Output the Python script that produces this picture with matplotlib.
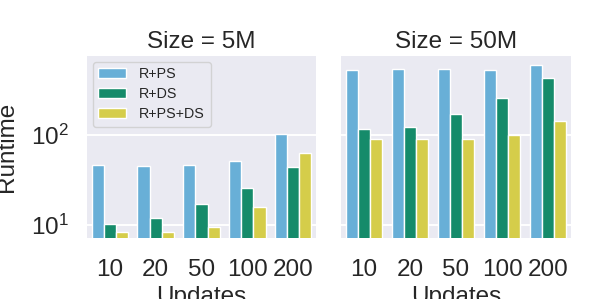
import colorsys
import numpy as np
import matplotlib
matplotlib.use("Agg")
import matplotlib.pyplot as plt
import matplotlib.colors as mcolors

# дані
updates = ["10", "20", "50", "100", "200"]
methods = ["R+PS", "R+DS", "R+PS+DS"]
sizes = ["5M", "50M"]

rt_5m_ps = [47, 45.5, 47, 52, 103]
rt_5m_ds = [10.3, 11.9, 17.1, 25.8, 44.5]
rt_5m_psds = [8.4, 8.4, 9.5, 16.0, 63.5]

rt_50m_ps = [523, 537, 541, 528, 594]
rt_50m_ds = [117, 124, 172, 255, 433]
rt_50m_psds = [90, 89, 90, 99, 144]

base_colors = ["#56b4e9", "#029e73", "#ece133"]


def desaturate(c, prop=0.75):
    r, g, b = mcolors.to_rgb(c)
    h, l, s = colorsys.rgb_to_hls(r, g, b)
    return colorsys.hls_to_rgb(h, l, s * prop)


colors = [desaturate(c) for c in base_colors]

plt.rcParams["font.family"] = ["Liberation Sans", "DejaVu Sans"]
plt.rcParams["mathtext.fontset"] = "custom"
plt.rcParams["mathtext.rm"] = "Liberation Sans"
plt.rcParams["mathtext.it"] = "Liberation Sans:italic"
plt.rcParams["mathtext.default"] = "regular"
plt.rcParams["text.color"] = "#262626"
plt.rcParams["axes.labelcolor"] = "#262626"
plt.rcParams["xtick.color"] = "#262626"
plt.rcParams["ytick.color"] = "#262626"

fs = 17.5

fig = plt.figure(figsize=(5.98, 2.99), dpi=100)
ax1 = fig.add_axes([87 / 598, 61 / 299, 229 / 598, 182 / 299])
ax2 = fig.add_axes([341 / 598, 61 / 299, 230 / 598, 182 / 299], sharey=ax1)

data = [
    [rt_5m_ps, rt_5m_ds, rt_5m_psds],
    [rt_50m_ps, rt_50m_ds, rt_50m_psds],
]

x = np.arange(len(updates))
w = 0.8 / len(methods)

for ax, size, series in zip([ax1, ax2], sizes, data):
    ax.set_facecolor("#EAEAF2")
    for sp in ax.spines.values():
        sp.set_visible(False)
    for i, (vals, name) in enumerate(zip(series, methods)):
        ax.bar(x + (i - 1) * w, vals, width=w, color=colors[i],
               edgecolor="white", linewidth=1.0, label=name)
    ax.set_yscale("log")
    ax.set_ylim(7.2, 750)
    ax.set_xlim(-0.5, len(updates) - 0.5)
    ax.set_xticks(x)
    ax.set_xticklabels(updates)
    ax.set_axisbelow(True)
    ax.grid(axis="y", which="major", color="white", linewidth=1.4)
    ax.grid(axis="x", visible=False)
    ax.tick_params(axis="both", which="both", length=0, labelsize=fs)
    ax.tick_params(axis="x", pad=15)
    ax.tick_params(axis="y", pad=13)
    ax.set_title("Size = " + size, fontsize=fs, pad=6)
    ax.set_xlabel("Updates", fontsize=fs)
    ax.xaxis.set_label_coords(0.5, -0.265)

ax1.set_ylabel("Runtime", fontsize=fs)
ax1.yaxis.set_label_coords(-0.30, 0.5)
ax2.tick_params(axis="y", labelleft=False)

leg = ax1.legend(loc="upper left", fontsize=10.3, handlelength=1.95,
                 handletextpad=0.9, labelspacing=0.42, borderpad=0.4,
                 borderaxespad=0.4, fancybox=True, framealpha=0.8)
leg.get_frame().set_facecolor("#EAEAF2")
leg.get_frame().set_edgecolor("#CCCCCC")

fig.savefig("out.png", dpi=100)
